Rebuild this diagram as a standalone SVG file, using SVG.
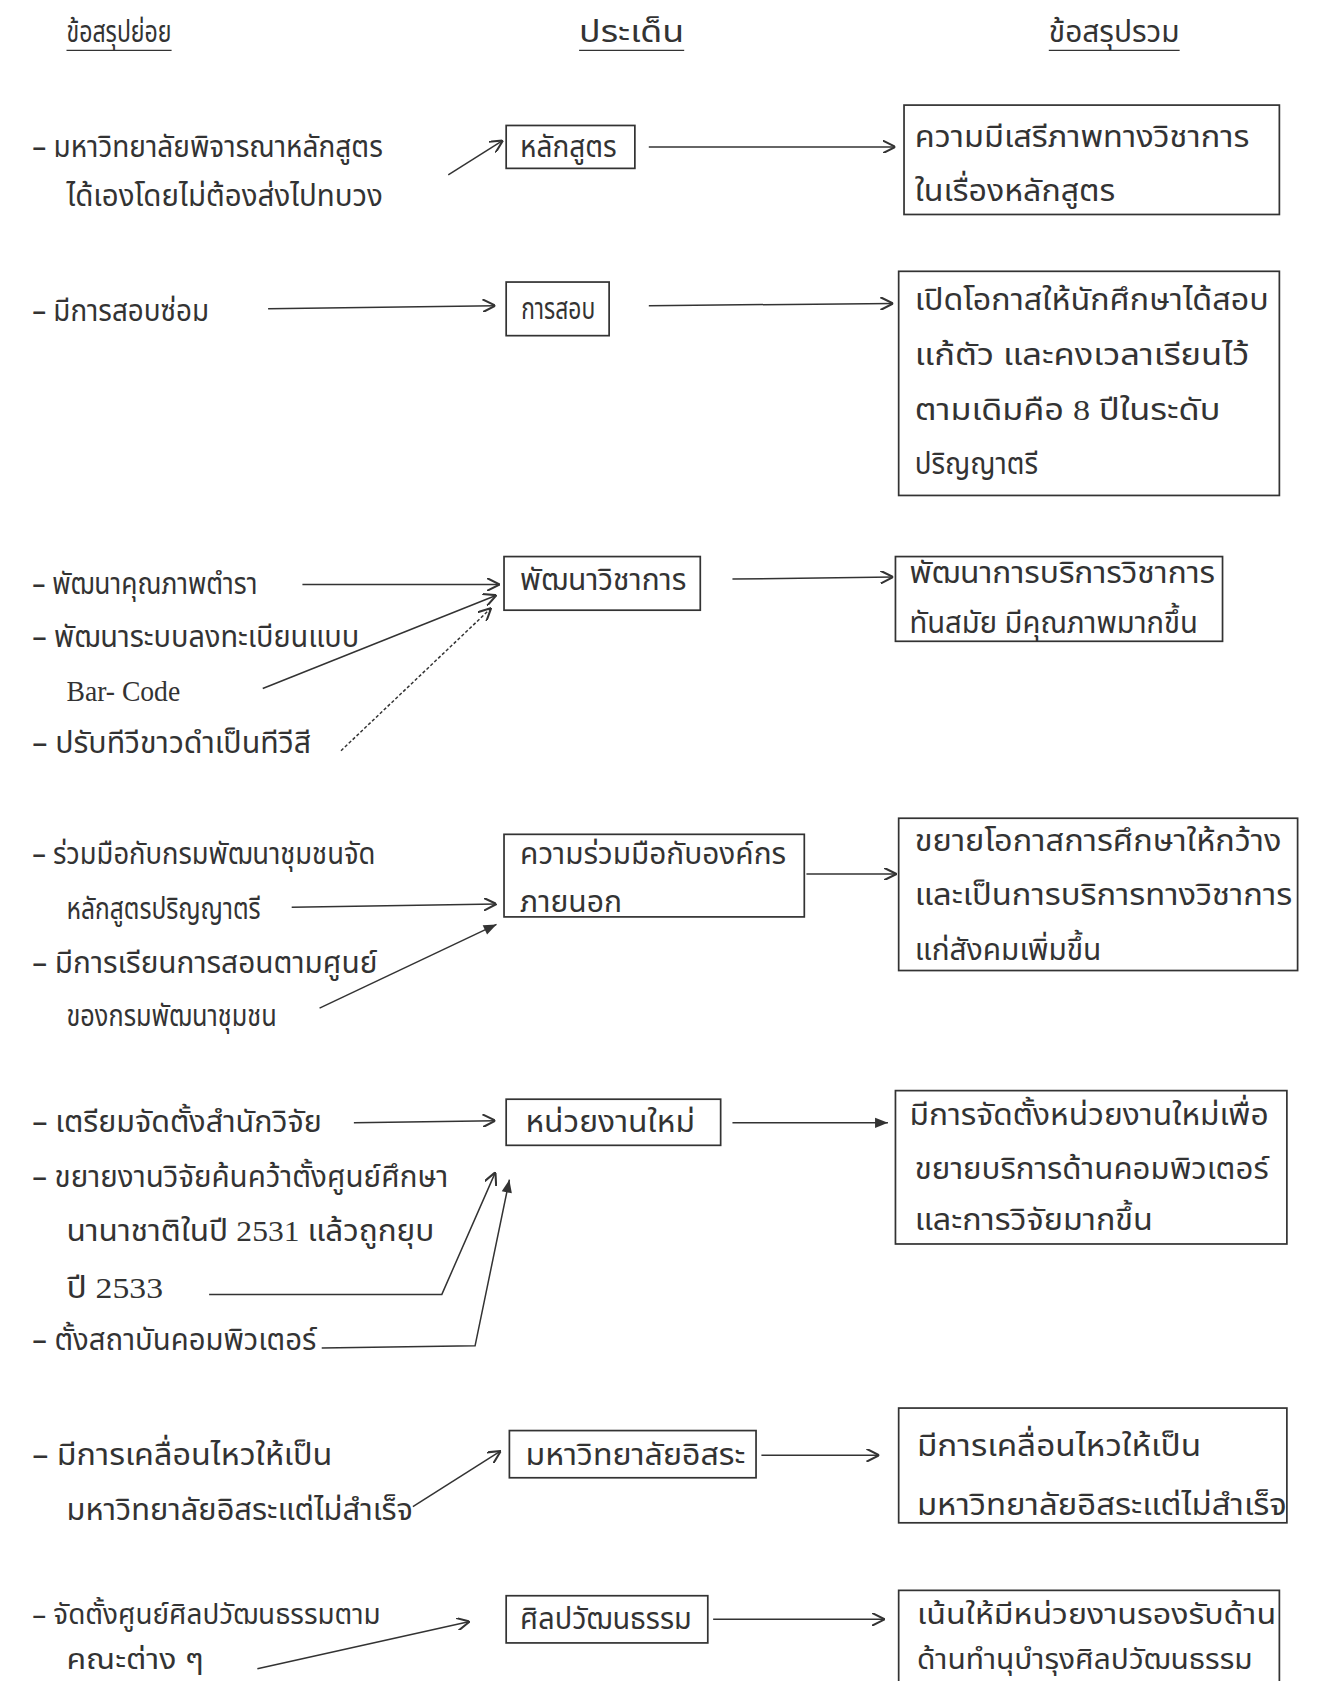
<svg xmlns="http://www.w3.org/2000/svg" width="1318" height="1681" viewBox="0 0 1318 1681">
<style>
.t{font-family:"Noto Sans Thai","Noto Sans","DejaVu Sans",sans-serif;font-size:28px;fill:#333}
.t2{font-size:26px}
.s{font-family:"Liberation Serif","DejaVu Serif",serif;font-size:28px;fill:#333}
.box{fill:none;stroke:#333;stroke-width:1.6}
.c{fill:none;stroke:#333;stroke-width:1.4}
.u{stroke:#333;stroke-width:1.2}
</style>
<defs>
<marker id="ao" viewBox="0 0 10 10" refX="10" refY="5" markerWidth="12" markerHeight="12" markerUnits="userSpaceOnUse" orient="auto"><path d="M0,0 L10,5 L0,10" fill="none" stroke="#333" stroke-width="1.6"/></marker>
<marker id="af" viewBox="0 0 10 10" refX="10" refY="5" markerWidth="14" markerHeight="12" markerUnits="userSpaceOnUse" orient="auto"><path d="M0,1 L10,5 L0,9 Z" fill="#333"/></marker>
</defs>
<rect width="1318" height="1681" fill="#fff"/>
<g transform="scale(1.0724)">
<g id="headers">
<text class="t" x="62" y="39" textLength="98" lengthAdjust="spacingAndGlyphs">ข้อสรุปย่อย</text>
<line class="u" x1="62" y1="47" x2="160" y2="47"/>
<text class="t" x="540" y="39" textLength="98" lengthAdjust="spacingAndGlyphs">ประเด็น</text>
<line class="u" x1="540" y1="47" x2="638" y2="47"/>
<text class="t" x="978" y="39" textLength="122" lengthAdjust="spacingAndGlyphs">ข้อสรุปรวม</text>
<line class="u" x1="978" y1="47" x2="1100" y2="47"/>
</g>

<g id="left-1">
<text class="t" x="30" y="146" textLength="327" lengthAdjust="spacingAndGlyphs">– มหาวิทยาลัยพิจารณาหลักสูตร</text>
<text class="t" x="62" y="192" textLength="295" lengthAdjust="spacingAndGlyphs">ได้เองโดยไม่ต้องส่งไปทบวง</text>
</g>
<g id="issue-1"><rect class="box" x="472" y="117" width="120" height="40"/><text class="t" x="485" y="146" textLength="90" lengthAdjust="spacingAndGlyphs">หลักสูตร</text></g>
<g id="result-1"><rect class="box" x="843" y="98" width="350" height="102"/>
<text class="t" x="853" y="137" textLength="312" lengthAdjust="spacingAndGlyphs">ความมีเสรีภาพทางวิชาการ</text>
<text class="t" x="853" y="187" textLength="187" lengthAdjust="spacingAndGlyphs">ในเรื่องหลักสูตร</text></g>

<g id="left-2"><text class="t" x="30" y="299" textLength="165" lengthAdjust="spacingAndGlyphs">– มีการสอบซ่อม</text></g>
<g id="issue-2"><rect class="box" x="472" y="263" width="96" height="50"/><text class="t" x="486" y="297" textLength="69" lengthAdjust="spacingAndGlyphs">การสอบ</text></g>
<g id="result-2"><rect class="box" x="838" y="253" width="355" height="209"/>
<text class="t" x="853" y="289" textLength="330" lengthAdjust="spacingAndGlyphs">เปิดโอกาสให้นักศึกษาได้สอบ</text>
<text class="t" x="853" y="340" textLength="312" lengthAdjust="spacingAndGlyphs">แก้ตัว และคงเวลาเรียนไว้</text>
<text class="t" x="853" y="392" textLength="285" lengthAdjust="spacingAndGlyphs">ตามเดิมคือ <tspan class="s">8</tspan> ปีในระดับ</text>
<text class="t" x="853" y="442" textLength="115" lengthAdjust="spacingAndGlyphs">ปริญญาตรี</text></g>

<g id="left-3">
<text class="t" x="30" y="554" textLength="210" lengthAdjust="spacingAndGlyphs">– พัฒนาคุณภาพตำรา</text>
<text class="t" x="30" y="603" textLength="305" lengthAdjust="spacingAndGlyphs">– พัฒนาระบบลงทะเบียนแบบ</text>
<text class="s" x="62" y="654" textLength="106" lengthAdjust="spacingAndGlyphs">Bar- Code</text>
<text class="t" x="30" y="702" textLength="260" lengthAdjust="spacingAndGlyphs">– ปรับทีวีขาวดำเป็นทีวีสี</text>
</g>
<g id="issue-3"><rect class="box" x="470" y="519" width="183" height="50"/><text class="t" x="485" y="550" textLength="155" lengthAdjust="spacingAndGlyphs">พัฒนาวิชาการ</text></g>
<g id="result-3"><rect class="box" x="835" y="519" width="305" height="79"/>
<text class="t" x="848" y="544" textLength="285" lengthAdjust="spacingAndGlyphs">พัฒนาการบริการวิชาการ</text>
<text class="t" x="848" y="590" textLength="269" lengthAdjust="spacingAndGlyphs">ทันสมัย มีคุณภาพมากขึ้น</text></g>

<g id="left-4">
<text class="t" x="30" y="806" textLength="320" lengthAdjust="spacingAndGlyphs">– ร่วมมือกับกรมพัฒนาชุมชนจัด</text>
<text class="t" x="62" y="857" textLength="181" lengthAdjust="spacingAndGlyphs">หลักสูตรปริญญาตรี</text>
<text class="t" x="30" y="907" textLength="322" lengthAdjust="spacingAndGlyphs">– มีการเรียนการสอนตามศูนย์</text>
<text class="t" x="62" y="957" textLength="196" lengthAdjust="spacingAndGlyphs">ของกรมพัฒนาชุมชน</text>
</g>
<g id="issue-4"><rect class="box" x="470" y="778" width="280" height="77"/>
<text class="t" x="485" y="806" textLength="248" lengthAdjust="spacingAndGlyphs">ความร่วมมือกับองค์กร</text>
<text class="t" x="485" y="850" textLength="95" lengthAdjust="spacingAndGlyphs">ภายนอก</text></g>
<g id="result-4"><rect class="box" x="838" y="763" width="372" height="142"/>
<text class="t" x="853" y="794" textLength="342" lengthAdjust="spacingAndGlyphs">ขยายโอกาสการศึกษาให้กว้าง</text>
<text class="t" x="853" y="844" textLength="352" lengthAdjust="spacingAndGlyphs">และเป็นการบริการทางวิชาการ</text>
<text class="t" x="853" y="895" textLength="174" lengthAdjust="spacingAndGlyphs">แก่สังคมเพิ่มขึ้น</text></g>

<g id="left-5">
<text class="t" x="30" y="1056" textLength="270" lengthAdjust="spacingAndGlyphs">– เตรียมจัดตั้งสำนักวิจัย</text>
<text class="t" x="30" y="1107" textLength="388" lengthAdjust="spacingAndGlyphs">– ขยายงานวิจัยค้นคว้าตั้งศูนย์ศึกษา</text>
<text class="t" x="62" y="1157" textLength="343" lengthAdjust="spacingAndGlyphs">นานาชาติในปี <tspan class="s">2531</tspan> แล้วถูกยุบ</text>
<text class="t" x="62" y="1210" textLength="90" lengthAdjust="spacingAndGlyphs">ปี <tspan class="s">2533</tspan></text>
<text class="t" x="30" y="1259" textLength="265" lengthAdjust="spacingAndGlyphs">– ตั้งสถาบันคอมพิวเตอร์</text>
</g>
<g id="issue-5"><rect class="box" x="472" y="1025" width="200" height="43"/><text class="t" x="490" y="1056" textLength="158" lengthAdjust="spacingAndGlyphs">หน่วยงานใหม่</text></g>
<g id="result-5"><rect class="box" x="835" y="1017" width="365" height="143"/>
<text class="t" x="848" y="1049" textLength="335" lengthAdjust="spacingAndGlyphs">มีการจัดตั้งหน่วยงานใหม่เพื่อ</text>
<text class="t" x="853" y="1099" textLength="330" lengthAdjust="spacingAndGlyphs">ขยายบริการด้านคอมพิวเตอร์</text>
<text class="t" x="853" y="1147" textLength="222" lengthAdjust="spacingAndGlyphs">และการวิจัยมากขึ้น</text></g>

<g id="left-6">
<text class="t" x="30" y="1366" textLength="280" lengthAdjust="spacingAndGlyphs">– มีการเคลื่อนไหวให้เป็น</text>
<text class="t" x="62" y="1417" textLength="323" lengthAdjust="spacingAndGlyphs">มหาวิทยาลัยอิสระแต่ไม่สำเร็จ</text>
</g>
<g id="issue-6"><rect class="box" x="475" y="1334" width="230" height="44"/><text class="t" x="490" y="1366" textLength="205" lengthAdjust="spacingAndGlyphs">มหาวิทยาลัยอิสระ</text></g>
<g id="result-6"><rect class="box" x="838" y="1313" width="362" height="107"/>
<text class="t" x="855" y="1358" textLength="265" lengthAdjust="spacingAndGlyphs">มีการเคลื่อนไหวให้เป็น</text>
<text class="t" x="855" y="1413" textLength="345" lengthAdjust="spacingAndGlyphs">มหาวิทยาลัยอิสระแต่ไม่สำเร็จ</text></g>

<g id="left-7">
<text class="t t2" x="30" y="1514" textLength="325" lengthAdjust="spacingAndGlyphs">– จัดตั้งศูนย์ศิลปวัฒนธรรมตาม</text>
<text class="t t2" x="62" y="1556" textLength="128" lengthAdjust="spacingAndGlyphs">คณะต่าง ๆ</text>
</g>
<g id="issue-7"><rect class="box" x="472" y="1488" width="188" height="44"/><text class="t" x="485" y="1519" textLength="160" lengthAdjust="spacingAndGlyphs">ศิลปวัฒนธรรม</text></g>
<g id="result-7"><rect class="box" x="838" y="1483" width="355" height="120"/>
<text class="t t2" x="855" y="1514" textLength="335" lengthAdjust="spacingAndGlyphs">เน้นให้มีหน่วยงานรองรับด้าน</text>
<text class="t t2" x="855" y="1556" textLength="313" lengthAdjust="spacingAndGlyphs">ด้านทำนุบำรุงศิลปวัฒนธรรม</text></g>

<g id="connectors">
<line class="c" x1="418" y1="163" x2="469" y2="131" marker-end="url(#ao)"/>
<line class="c" x1="605" y1="137" x2="835" y2="137" marker-end="url(#ao)"/>
<line class="c" x1="250" y1="288" x2="462" y2="285" marker-end="url(#ao)"/>
<line class="c" x1="605" y1="285" x2="833" y2="283" marker-end="url(#ao)"/>
<line class="c" x1="282" y1="545" x2="466" y2="545" marker-end="url(#ao)"/>
<line class="c" x1="245" y1="642" x2="463" y2="555" marker-end="url(#ao)"/>
<line class="c" x1="318" y1="700" x2="458" y2="567" marker-end="url(#ao)" stroke-dasharray="3 2" stroke-width="1"/>
<line class="c" x1="683" y1="540" x2="833" y2="538" marker-end="url(#ao)"/>
<line class="c" x1="272" y1="846" x2="463" y2="843" marker-end="url(#ao)"/>
<line class="c" x1="298" y1="940" x2="463" y2="862" marker-end="url(#af)"/>
<line class="c" x1="752" y1="815" x2="836" y2="815" marker-end="url(#ao)"/>
<line class="c" x1="330" y1="1047" x2="462" y2="1045" marker-end="url(#ao)"/>
<polyline class="c" points="195,1207 412,1207 462,1093" marker-end="url(#ao)"/>
<polyline class="c" points="300,1257 443,1255 475,1100" marker-end="url(#af)"/>
<line class="c" x1="683" y1="1047" x2="828" y2="1047" marker-end="url(#af)"/>
<line class="c" x1="385" y1="1405" x2="467" y2="1353" marker-end="url(#ao)"/>
<line class="c" x1="710" y1="1357" x2="820" y2="1357" marker-end="url(#ao)"/>
<line class="c" x1="240" y1="1556" x2="438" y2="1512" marker-end="url(#ao)"/>
<line class="c" x1="665" y1="1510" x2="825" y2="1510" marker-end="url(#ao)"/>
</g>
</g>
</svg>
